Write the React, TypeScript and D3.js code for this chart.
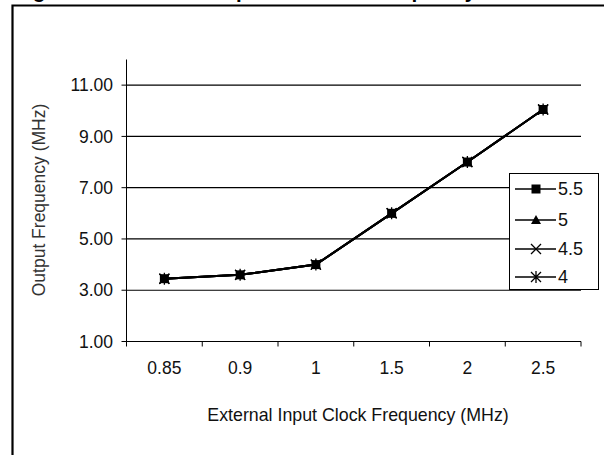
import React from "react";
import * as d3 from "d3";

const categories = ["0.85", "0.9", "1", "1.5", "2", "2.5"];
const seriesNames = ["5.5", "5", "4.5", "4"];
const s55 = [3.45, 3.6, 4.0, 6.0, 8.0, 10.05];
const s5 = [3.45, 3.6, 4.0, 6.0, 8.0, 10.05];
const s45 = [3.45, 3.6, 4.0, 6.0, 8.0, 10.05];
const s4 = [3.45, 3.6, 4.0, 6.0, 8.0, 10.05];
const yTicks = [1, 3, 5, 7, 9, 11];
const title = "Figure 6. Minimum Output Oscillator Frequency vs. External Clock Frequency";
const xTitle = "External Input Clock Frequency (MHz)";
const yTitle = "Output Frequency (MHz)";

const W = 604;
const H = 455;
const left = 126.5;
const right = 581;
const top = 59.5;
const bottom = 341.5;
const font = "'Liberation Sans', Arial, sans-serif";

function Marker({ kind, x, y }: { kind: string; x: number; y: number }) {
  const s = 5;
  if (kind === "5.5")
    return <rect x={x - 4.5} y={y - 4.5} width={9} height={9} fill="#000" />;
  if (kind === "5")
    return (
      <path d={`M${x},${y - 5}L${x + 5},${y + 4}L${x - 5},${y + 4}Z`} fill="#000" />
    );
  if (kind === "4.5")
    return (
      <path
        d={`M${x - s},${y - s}L${x + s},${y + s}M${x - s},${y + s}L${x + s},${y - s}`}
        stroke="#000"
        strokeWidth={1.3}
      />
    );
  return (
    <path
      d={`M${x - s},${y - s}L${x + s},${y + s}M${x - s},${y + s}L${x + s},${y - s}M${x},${y - 6}L${x},${y + 6}`}
      stroke="#000"
      strokeWidth={1.3}
    />
  );
}

export default function App() {
  const x = d3.scaleBand<string>().domain(categories).range([left, right]);
  const y = d3.scaleLinear().domain([1, 12]).range([bottom, top]);
  const all = [s55, s5, s45, s4];
  const line = d3
    .line<number>()
    .x((_, i) => (x(categories[i]) as number) + x.bandwidth() / 2)
    .y((d) => y(d));
  const tickXs = categories.map((c) => x(c) as number).concat([right]);

  const legendX = 509.5;
  const legendY = 173.5;
  const legendRows = [189, 220, 249, 277];

  return (
    <svg
      width={W}
      height={H}
      style={{ position: "absolute", left: 0, top: 0, background: "#fff" }}
      fontFamily={font}
    >
      <rect x={0} y={0} width={W} height={H} fill="#fff" />
      <text x={15} y={-2} fontSize={20.4} fontWeight="bold" fill="#000">
        {title}
      </text>
      {/* outer border */}
      <path d={`M12.5,${H}V5.5H${W}`} fill="none" stroke="#000" strokeWidth={2.2} />
      {/* gridlines */}
      {yTicks.map((t) => (
        <line key={t} x1={left} x2={right} y1={y(t)} y2={y(t)} stroke="#000" strokeWidth={1.2} />
      ))}
      {/* y axis */}
      <line x1={left} x2={left} y1={top} y2={bottom} stroke="#000" strokeWidth={1} />
      {yTicks.map((t) => (
        <g key={"yt" + t}>
          <line x1={left - 5} x2={left} y1={y(t)} y2={y(t)} stroke="#000" />
          <text
            x={113}
            y={y(t)}
            dy="0.35em"
            textAnchor="end"
            fontSize={17.5}
            fill="#111"
          >
            {t.toFixed(2)}
          </text>
        </g>
      ))}
      {/* x axis */}
      <line x1={left} x2={right} y1={bottom} y2={bottom} stroke="#000" strokeWidth={1.2} />
      {tickXs.map((tx, i) => (
        <line key={"xt" + i} x1={tx} x2={tx} y1={bottom} y2={bottom + 5} stroke="#000" />
      ))}
      {categories.map((c) => (
        <text
          key={"xl" + c}
          x={(x(c) as number) + x.bandwidth() / 2}
          y={374}
          textAnchor="middle"
          fontSize={17.5}
          fill="#111"
        >
          {c}
        </text>
      ))}
      <text x={358} y={421} textAnchor="middle" fontSize={17.8} fill="#111">
        {xTitle}
      </text>
      <text
        transform={`translate(45,200) rotate(-90)`}
        textAnchor="middle"
        fontSize={17.5}
        fill="#333"
      >
        {yTitle}
      </text>
      {/* series */}
      {all.map((s, si) => (
        <g key={"s" + si}>
          <path d={line(s) || ""} fill="none" stroke="#000" strokeWidth={2} />
          {s.map((v, i) => (
            <Marker
              key={i}
              kind={seriesNames[si]}
              x={(x(categories[i]) as number) + x.bandwidth() / 2}
              y={y(v)}
            />
          ))}
        </g>
      ))}
      {/* legend */}
      <rect
        x={legendX}
        y={legendY}
        width={89}
        height={116}
        fill="#fff"
        stroke="#000"
        strokeWidth={1}
      />
      {seriesNames.map((n, i) => (
        <g key={"lg" + n}>
          <line x1={515} x2={556} y1={legendRows[i]} y2={legendRows[i]} stroke="#000" strokeWidth={1.5} />
          <Marker kind={n} x={536} y={legendRows[i]} />
          <text x={558} y={legendRows[i]} dy="0.35em" fontSize={18} fill="#111">
            {n}
          </text>
        </g>
      ))}
    </svg>
  );
}
